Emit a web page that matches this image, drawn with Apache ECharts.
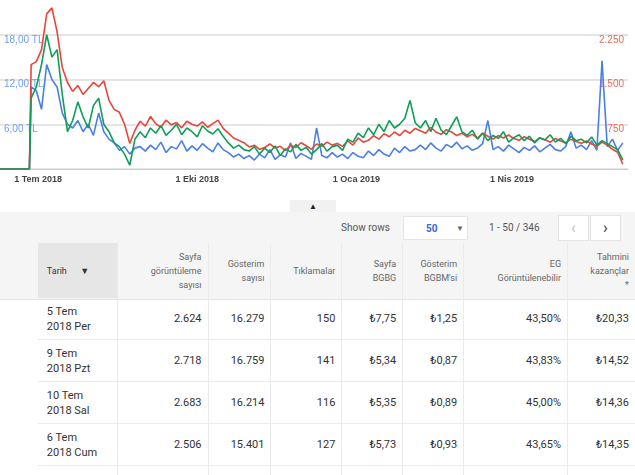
<!DOCTYPE html>
<html lang="tr">
<head>
<meta charset="utf-8">
<title>AdSense</title>
<script src="https://cdn.jsdelivr.net/npm/echarts@6/dist/echarts.min.js"></script>
<style>
  body { margin: 0; width: 635px; height: 475px; overflow: hidden; background: #fff; font-family: Roboto, "Noto Sans", sans-serif; color: #333; position: relative; }
  #chart { position: absolute; left: 0; top: -10px; width: 635px; height: 200px; }
  #tab { position: absolute; left: 290px; top: 200px; width: 46px; height: 13px; background: #f1f1f1; text-align: center; font-size: 8px; line-height: 13px; color: #222; }
  #band { position: absolute; left: 0; top: 212px; width: 635px; height: 87px; background: #f5f5f5; border-bottom: 1px solid #e4e4e4; }
  .ctl { position: absolute; font-size: 10px; color: #555; }
  #sel { position: absolute; left: 403px; top: 216px; width: 65px; height: 24px; background: #fff; border: 1px solid #e4e4e4; box-sizing: border-box; font-size: 10px; }
  .btn { position: absolute; top: 215px; width: 31px; height: 26px; background: #fff; border: 1px solid #e4e4e4; box-sizing: border-box; text-align: center; line-height: 24px; font-size: 16px; }
  table { position: absolute; left: 0; top: 243px; border-collapse: collapse; font-size: 11px; }
  th { font-weight: normal; font-size: 9px; color: #666; text-align: right; height: 55px; padding: 0 6px; line-height: 14px; border-right: 1px solid #ebebeb; }
  td { height: 41px; padding: 0 6px; text-align: right; color: #333; border-right: 1px solid #ebebeb; border-bottom: 1px solid #ebebeb; font-size: 11px; line-height: 15px; }
  td.d { text-align: left; padding-left: 9px; }
  th.d { background: #e6e6e6; text-align: left; padding-left: 9px; color: #333; font-size: 9px; }
  td.blank, th.blank { border-right: none; }
</style>
</head>
<body>
<div id="chart"></div>
<div id="tab">&#9650;</div>
<div id="band"></div>
<div class="ctl" style="left:341px;top:222px;">Show rows</div>
<div id="sel"><span style="position:absolute;left:22px;top:6px;color:#3367d6;font-weight:bold;">50</span><span style="position:absolute;left:52px;top:7px;font-size:8px;color:#666;">&#9660;</span></div>
<div class="ctl" style="left:489px;top:222px;">1 - 50 / 346</div>
<div class="btn" style="left:558px;color:#bbb;">&lsaquo;</div>
<div class="btn" style="left:590px;color:#333;">&rsaquo;</div>
<table>
  <tr>
    <th class="blank" style="width:26px;"></th>
    <th class="d" style="width:64px;">Tarih &nbsp;&nbsp;&nbsp;&nbsp;&nbsp;&#9660;</th>
    <th style="width:78px;">Sayfa<br>görüntüleme<br>sayısı</th>
    <th style="width:50px;">Gösterim<br>sayısı</th>
    <th style="width:58px;">Tıklamalar</th>
    <th style="width:48px;">Sayfa<br>BGBG</th>
    <th style="width:48px;">Gösterim<br>BGBM'si</th>
    <th style="width:91px;">EG<br>Görüntülenebilir</th>
    <th class="blank" style="width:55px;">Tahmini<br>kazançlar<br>*</th>
  </tr>
  <tbody id="rows"></tbody>
</table>
<script type="text/javascript">
    // table rows
    const rowDates = ['5 Tem<br>2018 Per', '9 Tem<br>2018 Pzt', '10 Tem<br>2018 Sal', '6 Tem<br>2018 Cum', ''];
    const rowViews = ['2.624', '2.718', '2.683', '2.506', ''];
    const rowImpr = ['16.279', '16.759', '16.214', '15.401', ''];
    const rowClicks = ['150', '141', '116', '127', ''];
    const rowRpm = ['₺7,75', '₺5,34', '₺5,35', '₺5,73', ''];
    const rowIrpm = ['₺1,25', '₺0,87', '₺0,89', '₺0,93', ''];
    const rowView = ['43,50%', '43,83%', '45,00%', '43,65%', ''];
    const rowEarn = ['₺20,33', '₺14,52', '₺14,36', '₺14,35', ''];

    // chart series, one point every 3 days from 27 Haz 2018
    const redViews = [1750, 1800, 2000, 2600, 2700, 2300, 1700, 1450, 1300, 1400, 1250, 1350, 1450, 1380, 1480, 1150, 1000, 950, 750, 430, 650,
        800, 720, 880, 760, 700, 820, 740, 780, 690, 800, 750, 720, 790, 700, 760, 820, 680,
        600, 520, 480, 440,
        370, 400, 330, 360, 420, 350, 380, 310, 400, 360, 440, 390, 330, 420, 380, 450, 400,
        430, 380, 470, 400, 520, 450, 480, 560, 500, 590, 540, 620, 560, 650, 600, 680,
        640, 600, 700, 620, 580, 660, 620, 560, 600,
        540, 580, 520, 600, 550, 500, 560, 520, 570, 510, 480, 540, 500, 460, 520, 490, 450, 510, 470, 440, 500, 460,
        430, 470, 420, 380, 450, 400, 330, 280, 80];
    const greenRpm = [9.5, 11, 14, 18, 15, 16, 10, 5, 6.5, 9, 7, 5.5, 8.5, 9.5, 6, 5, 3.5, 3, 2, 0.5, 4,
        5, 4.2, 5.5, 4.8, 5.8, 4.5, 5.2, 6, 4.6, 5.5, 5, 4.3, 5.8, 5.1, 4.7, 5.4, 4.4,
        3.5, 2.8, 3.2, 2.6,
        2.4, 3, 2, 2.8, 2.2, 3.1, 1.8, 2.7, 2.3, 3.3, 2.5, 2.9, 2, 2.6, 3.4, 2.4, 3,
        3.2, 2.5, 4, 3.6, 4.8, 4.2, 5.5, 4.6, 6, 5, 6.5, 5.5, 6, 6.8, 9.2, 6.2,
        5.5, 6.5, 5, 6.8, 5.2, 4.6, 5.8, 7, 5,
        4.5, 5.2, 4, 4.8, 3.8, 4.5, 4.1, 5, 3.6, 4.2, 4.6, 3.8, 4.4, 3.5, 4.2, 3.9, 4.6, 3.6, 4.1, 3.4, 4.4, 3.8,
        4, 3.5, 4.3, 3.2, 3.8, 3.4, 3, 2.6, 1.2];
    const blueEarn = [11, 10.5, 8, 14, 12, 11, 7.5, 6, 5.5, 6.5, 5, 6, 4.5, 7.5, 5, 4, 3.5, 2.5, 3, 2, 2.8,
        3, 2.4, 3.2, 2.6, 3.6, 2.2, 3, 2.7, 3.8, 2.4, 3.1, 2.5, 3.4, 2.8, 2.3, 3.5, 2.6,
        2.2, 1.6, 2, 1.4,
        1.8, 1.2, 2, 1.5, 2.6, 1.3, 1.9, 1.6, 3.5, 1.4, 2.1, 1.7, 1.3, 5.5, 1.8, 1.5, 2.2,
        1.6, 2, 1.4, 2.2, 1.7, 1.5, 2.4, 1.8, 2.6, 2, 1.7, 2.8, 2.2, 3, 2.4, 2.6,
        3.2, 2.6, 3.5, 2.8, 2.4, 3.3, 2.9, 3.6, 2.7,
        3.1, 2.5, 2.8, 3.4, 6.5, 2.6, 3, 2.4, 3.2, 2.7, 2.2, 2.9, 2.5, 3.1, 2.3, 2.8, 3.3, 2.6, 2.4, 3, 5, 2.8,
        3.2, 2.6, 3.8, 2.5, 14.5, 3, 4, 2.5, 3.5];
    const tickDates = ['2018-07-01', '2018-10-01', '2019-01-01', '2019-04-01'];
    const monthNames = ['Oca', 'Şub', 'Mar', 'Nis', 'May', 'Haz', 'Tem', 'Ağu', 'Eyl', 'Eki', 'Kas', 'Ara'];

    let html = '';
    for (let i = 0; i < rowDates.length; i++) {
        html += '<tr><td class="blank" style="border-bottom:none"></td><td class="d">' + rowDates[i] + '</td><td>' + rowViews[i] +
            '</td><td>' + rowImpr[i] + '</td><td>' + rowClicks[i] + '</td><td>' + rowRpm[i] + '</td><td>' + rowIrpm[i] +
            '</td><td>' + rowView[i] + '</td><td class="blank">' + rowEarn[i] + '</td></tr>';
    }
    document.getElementById('rows').innerHTML = html;

    const DAY = 86400000;
    const start = Date.UTC(2018, 5, 27);
    function build(vals) {
        const out = [[Date.UTC(2018, 5, 9), 0], [Date.UTC(2018, 5, 26), 0]];
        vals.forEach(function (v, i) { out.push([start + i * 3 * DAY, v]); });
        return out;
    }

    const chart = echarts.init(document.getElementById('chart'));
    const lineStyle = function (c) { return { color: c, width: 1.6 }; };
    chart.setOption({
        animation: false,
        grid: { left: 0, right: 7, top: 0, bottom: 21 },
        xAxis: {
            type: 'value',
            min: Date.UTC(2018, 5, 9),
            max: Date.UTC(2019, 5, 7),
            axisLine: { lineStyle: { color: '#ccc' } },
            axisTick: { show: false },
            splitLine: { show: false },
            axisLabel: {
                customValues: tickDates.map(function (d) { return new Date(d + 'T00:00:00Z').getTime(); }),
                formatter: function (v) { const d = new Date(v); return '1 ' + monthNames[d.getUTCMonth()] + ' ' + d.getUTCFullYear(); },
                color: '#444', fontSize: 9, fontWeight: 'bold', margin: 6
            }
        },
        yAxis: [
            {
                type: 'value', min: 0, max: 24, interval: 6,
                axisLine: { show: false }, axisTick: { show: false },
                splitLine: { lineStyle: { color: '#ddd', width: 1.5 } },
                axisLabel: { inside: true, verticalAlign: 'top', margin: 4, color: '#6fa0ee', fontSize: 10,
                    formatter: function (v) { return v === 0 ? '' : v.toFixed(2).replace('.', ',') + ' TL'; } }
            },
            {
                type: 'value', min: 0, max: 3000, interval: 750,
                axisLine: { show: false }, axisTick: { show: false }, splitLine: { show: false },
                axisLabel: { inside: true, verticalAlign: 'top', margin: 4, color: '#ea6a5a', fontSize: 10,
                    formatter: function (v) { return v === 0 ? '' : v.toLocaleString('de-DE'); } }
            },
            { type: 'value', min: 0, max: 24, show: false }
        ],
        series: [
            { type: 'line', yAxisIndex: 1, data: build(redViews), showSymbol: false, lineStyle: lineStyle('#e8453c'), z: 2 },
            { type: 'line', yAxisIndex: 0, data: build(blueEarn), showSymbol: false, lineStyle: lineStyle('#4a7fe6'), z: 1 },
            { type: 'line', yAxisIndex: 2, data: build(greenRpm), showSymbol: false, lineStyle: lineStyle('#0f9d58'), z: 3 }
        ]
    });
</script>
</body>
</html>
